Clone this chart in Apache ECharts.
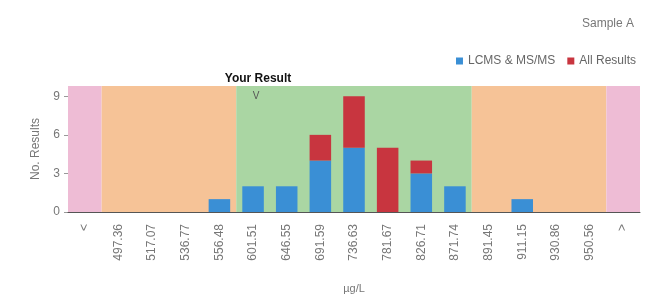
<!DOCTYPE html>
<html><head><meta charset="utf-8">
<script src="https://cdn.jsdelivr.net/npm/echarts@6/dist/echarts.min.js"></script>
<style>html,body{margin:0;padding:0;background:#fff}#c{width:653px;height:295px}</style>
</head><body><div id="c"></div>
<script>
const categories = ['<','497.36','517.07','536.77','556.48','601.51','646.55','691.59','736.63','781.67','826.71','871.74','891.45','911.15','930.86','950.56','>'];
const lcms = [0,0,0,0,1,2,2,4,5,0,3,2,0,1,0,0,0];
const allResults = [0,0,0,0,0,0,0,2,4,5,1,0,0,0,0,0,0];
const zones = ['out','warn','warn','warn','warn','ok','ok','ok','ok','ok','ok','ok','warn','warn','warn','warn','out'];
const yTicks = [0,3,6,9];
const yMax = 9.8;
const yourResultCategory = '601.51';
const zoneColor = {out:'#eebcd5', warn:'#f6c397', ok:'#aad6a3'};
// merge consecutive zones into runs on a hidden value axis aligned with category bands
const runs = [];
zones.forEach((z,i)=>{
  if(runs.length && runs[runs.length-1].z===z) runs[runs.length-1].end=i+1;
  else runs.push({z, start:i, end:i+1});
});
const chart = echarts.init(document.getElementById('c'));
chart.setOption({
  animation:false,
  textStyle:{fontFamily:'Liberation Sans, Arial, sans-serif'},
  title:{text:'Sample A', right:14, top:13, textStyle:{fontSize:12, fontWeight:'normal', color:'#777'}},
  legend:{data:['LCMS & MS/MS','All Results'], right:12, top:50, itemWidth:7, itemHeight:7, itemGap:12, icon:'rect',
    textStyle:{fontSize:12, color:'#666'}},
  grid:{left:68, right:13, top:86, bottom:83},
  xAxis:[{type:'category', data:categories, name:'µg/L', nameLocation:'middle', nameGap:71,
    nameTextStyle:{fontSize:11, color:'#777'},
    axisLine:{lineStyle:{color:'#555'}, onZero:false}, axisTick:{show:false}, z:5,
    axisLabel:{rotate:90, fontSize:12, color:'#777', interval:0, margin:12}},
   {type:'value', min:0, max:categories.length, show:false}],
  yAxis:{type:'value', min:0, max:yMax, interval:3, name:'No. Results', nameLocation:'middle', nameGap:26,
    nameTextStyle:{fontSize:12, color:'#777'},
    axisLine:{show:false}, axisTick:{show:true, length:4, lineStyle:{color:'#999'}}, splitLine:{show:false},
    axisLabel:{fontSize:12, color:'#777', showMaxLabel:false, margin:8,
      formatter:v=>yTicks.includes(v)?String(v):''}},
  series:[
    {type:'line', xAxisIndex:1, data:[], silent:true, z:1,
      markArea:{silent:true, data:runs.map(r=>[{xAxis:r.start, yAxis:0, itemStyle:{color:zoneColor[r.z]}},{xAxis:r.end, yAxis:yMax}])}},
    {name:'LCMS & MS/MS', type:'bar', stack:'a', barWidth:'64%', z:3, itemStyle:{color:'#3a8fd5'}, data:lcms,
      markPoint:{symbol:'rect', symbolSize:1, itemStyle:{color:'rgba(0,0,0,0)'}, data:[
        {coord:[yourResultCategory, yMax], label:{show:true, position:'inside', formatter:'Your Result', fontSize:12, fontWeight:'bold', color:'#111', offset:[5,-7]}},
        {coord:[yourResultCategory, yMax], label:{show:true, position:'inside', formatter:'V', fontSize:10, color:'#555', offset:[3,10]}}]}},
    {name:'All Results', type:'bar', stack:'a', barWidth:'64%', z:3, itemStyle:{color:'#c8353f'}, data:allResults}
  ]
});
</script></body></html>
